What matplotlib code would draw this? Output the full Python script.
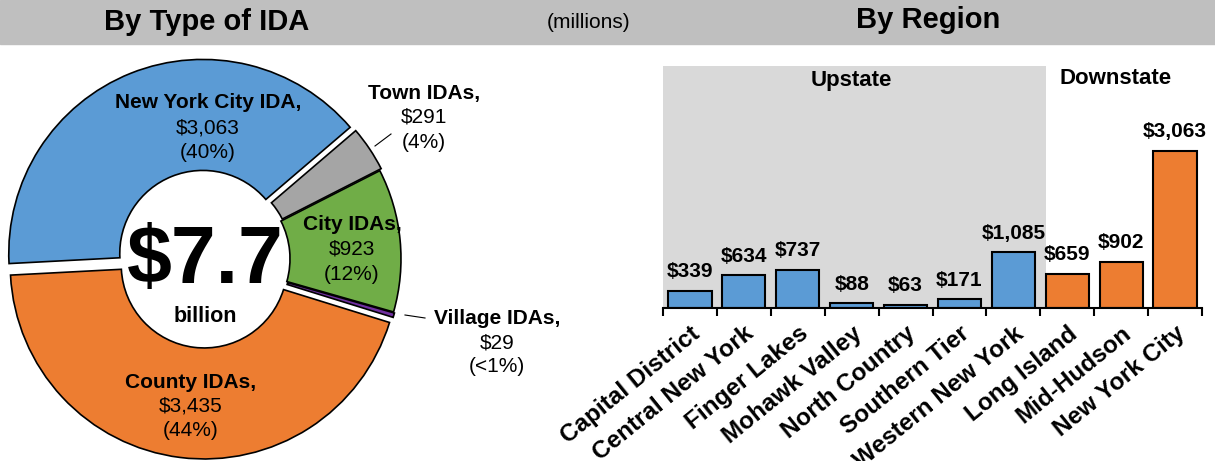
import matplotlib
matplotlib.use('Agg')
import matplotlib.pyplot as plt
from matplotlib.patches import Rectangle

plt.rcParams['font.family'] = ['Liberation Sans', 'DejaVu Sans']

# dona por tipo de IDA (millones)
ida_tipos = ['New York City IDA,', 'Town IDAs,', 'City IDAs,', 'Village IDAs,', 'County IDAs,']
ida_montos = [3063, 291, 923, 29, 3435]
ida_pct = ['(40%)', '(4%)', '(12%)', '(<1%)', '(44%)']
ida_colores = ['#5b9bd5', '#a5a5a5', '#70ad47', '#7030a0', '#ed7d31']
total_texto = '$7.7'

# barras por region (millones)
regiones = ['Capital District', 'Central New York', 'Finger Lakes', 'Mohawk Valley',
            'North Country', 'Southern Tier', 'Western New York', 'Long Island',
            'Mid-Hudson', 'New York City']
montos_region = [339, 634, 737, 88, 63, 171, 1085, 659, 902, 3063]
n_upstate = 7

W, H = 1215, 461
fig = plt.figure(figsize=(W / 100, H / 100), dpi=100)

# banda gris del encabezado
fig.patches.append(Rectangle((0, 1 - 44 / H), 1, 44 / H, transform=fig.transFigure,
                             color='#bfbfbf', zorder=0))
fig.text(207 / W, 1 - 22 / H, 'By Type of IDA', ha='center', va='center',
         fontsize=21, fontweight='bold')
fig.text(589 / W, 1 - 23 / H, '(millions)', ha='center', va='center', fontsize=15)
fig.text(928 / W, 1 - 20 / H, 'By Region', ha='center', va='center',
         fontsize=21, fontweight='bold')

# ---- dona ----
ax1 = fig.add_axes([0, 0, 560 / W, 1])
cx, cy = 205, H - 259
ax1.pie(ida_montos, colors=ida_colores, startangle=183, counterclock=False,
        radius=194, center=(cx, cy), explode=[6, 4, 2, 3, 6],
        wedgeprops=dict(width=111, edgecolor='black', linewidth=1.2))
ax1.set_xlim(0, 560)
ax1.set_ylim(0, H)
ax1.set_aspect('equal')
ax1.axis('off')

def py(y):
    return H - y

# posiciones de etiquetas (pixeles)
pos_etiq = [(208, 103), (424, 93), (352, 225), (497, 318), (191, 382)]
for nombre, monto, pct, (x, y) in zip(ida_tipos, ida_montos, ida_pct, pos_etiq):
    paso = 24.5
    ax1.text(x, py(y), nombre, ha='center', va='center', fontsize=15, fontweight='bold')
    ax1.text(x, py(y + paso), f'${monto:,}', ha='center', va='center', fontsize=15)
    ax1.text(x, py(y + 2 * paso), pct, ha='center', va='center', fontsize=15)

ax1.plot([375, 391], [py(146), py(134)], color='black', lw=0.8)
ax1.plot([405, 425], [py(315), py(318)], color='black', lw=0.8)

ax1.text(cx, py(283), total_texto, ha='center', va='baseline', fontsize=58, fontweight='bold')
ax1.text(cx, py(322), 'billion', ha='center', va='baseline', fontsize=15.5, fontweight='bold')

# ---- barras ----
ax2 = fig.add_axes([663 / W, (H - 308) / H, 539 / W, 242 / H])
x = list(range(len(regiones)))
colores_barra = ['#5b9bd5'] * n_upstate + ['#ed7d31'] * (len(regiones) - n_upstate)
ax2.axvspan(-0.5, n_upstate - 0.4, color='#d9d9d9', lw=0, zorder=0)
ax2.bar(x, montos_region, width=0.8, color=colores_barra, edgecolor='black',
        linewidth=1.5, zorder=2)
ax2.set_xlim(-0.5, len(regiones) - 0.5)
ax2.set_ylim(0, 4720)

for i, v in enumerate(montos_region):
    ax2.annotate(f'${v:,}', (i, v), xytext=(0, 7), textcoords='offset points',
                 ha='center', va='bottom', fontsize=15, fontweight='bold')

ax2.text(3.0, 0.94, 'Upstate', transform=ax2.get_xaxis_transform(), ha='center',
         va='center', fontsize=16, fontweight='bold')
ax2.text(7.9, 0.95, 'Downstate', transform=ax2.get_xaxis_transform(), ha='center',
         va='center', fontsize=16, fontweight='bold')

for s in ['top', 'left', 'right']:
    ax2.spines[s].set_visible(False)
ax2.spines['bottom'].set_linewidth(1.5)
ax2.set_yticks([])
ax2.set_xticks(x)
ax2.set_xticklabels(regiones, rotation=39, ha='right', rotation_mode='anchor',
                    fontsize=17.5, fontweight='bold')
ax2.tick_params(axis='x', which='major', length=0, pad=10)
ax2.set_xticks([i - 0.5 for i in range(len(regiones) + 1)], minor=True)
ax2.tick_params(axis='x', which='minor', length=6, width=1.5, direction='out')
ax2.set_facecolor('none')

fig.savefig('out.png', dpi=100)
plt.close(fig)
